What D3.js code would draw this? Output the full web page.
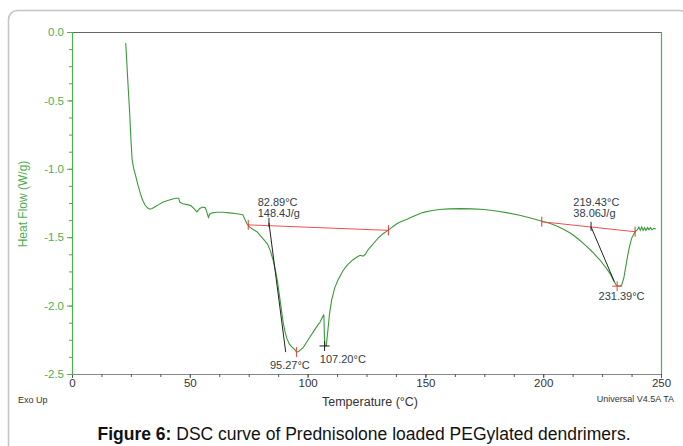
<!DOCTYPE html>
<html>
<head>
<meta charset="utf-8">
<script src="https://cdn.jsdelivr.net/npm/d3@7"></script>
<style>
  html, body { margin: 0; padding: 0; background: #fff; }
  svg { display: block; font-family: "Liberation Sans", Arial, sans-serif; }
</style>
</head>
<body>
<svg id="chart" width="683" height="446"></svg>
<script>
// ---- data ----
const temperature = [22.8,23.2,23.6,24.0,24.5,25.0,25.5,26.2,27.0,28.0,29.0,30.0,31.0,32.0,33.0,34.0,35.5,37.0,38.5,40.0,42.0,44.0,45.3,45.8,47.0,49.0,50.5,52.0,53.0,54.2,55.5,56.6,57.3,57.9,58.5,59.5,61.5,64.0,67.0,70.0,72.5,73.4,74.2,75.3,77.0,78.5,80.0,81.5,83.0,84.2,85.4,86.3,87.2,88.0,88.8,89.6,90.4,91.2,92.2,93.2,94.5,95.3,96.2,97.2,98.2,99.5,101.0,102.5,104.0,105.3,106.3,106.9,107.1,107.3,107.9,108.5,109.3,110.2,111.5,113.0,115.0,117.0,119.0,121.0,122.3,123.5,124.5,125.5,127.0,128.5,130.0,132.0,134.0,136.0,138.0,140.0,142.0,144.0,146.0,148.0,150.0,153.0,156.0,160.0,165.0,170.0,175.0,180.0,185.0,190.0,195.0,199.5,203.0,206.0,209.0,212.0,215.0,218.0,221.0,224.0,226.5,228.5,230.0,231.0,232.3,233.3,234.2,235.0,235.8,236.6,237.5,238.5,239.3,240.0,240.6,241.2,241.8,242.4,243.0,243.6,244.3,244.9,245.5,246.2,247.0,247.8];
const heatFlow = [-0.08,-0.20,-0.33,-0.45,-0.60,-0.78,-0.93,-1.00,-1.05,-1.12,-1.18,-1.23,-1.265,-1.285,-1.295,-1.29,-1.275,-1.26,-1.245,-1.235,-1.225,-1.215,-1.215,-1.245,-1.255,-1.262,-1.27,-1.295,-1.315,-1.29,-1.28,-1.285,-1.32,-1.355,-1.33,-1.322,-1.318,-1.318,-1.322,-1.328,-1.335,-1.37,-1.40,-1.425,-1.445,-1.46,-1.49,-1.52,-1.55,-1.60,-1.67,-1.74,-1.82,-1.92,-2.02,-2.12,-2.19,-2.24,-2.28,-2.30,-2.32,-2.34,-2.335,-2.32,-2.305,-2.27,-2.23,-2.19,-2.15,-2.12,-2.085,-2.065,-2.20,-2.29,-2.295,-2.20,-2.06,-1.96,-1.87,-1.81,-1.745,-1.70,-1.668,-1.645,-1.632,-1.638,-1.625,-1.595,-1.565,-1.535,-1.505,-1.475,-1.452,-1.425,-1.400,-1.383,-1.370,-1.355,-1.340,-1.325,-1.315,-1.305,-1.298,-1.293,-1.291,-1.293,-1.298,-1.308,-1.322,-1.340,-1.362,-1.383,-1.40,-1.42,-1.445,-1.475,-1.515,-1.56,-1.61,-1.665,-1.72,-1.77,-1.82,-1.85,-1.858,-1.85,-1.80,-1.72,-1.64,-1.57,-1.51,-1.475,-1.455,-1.445,-1.425,-1.45,-1.425,-1.45,-1.43,-1.45,-1.43,-1.445,-1.43,-1.445,-1.435,-1.44];

const xTicks = [0, 50, 100, 150, 200, 250];
const yTicks = [0.0, -0.5, -1.0, -1.5, -2.0, -2.5];
const yTickLabels = ["0.0", "-0.5", "-1.0", "-1.5", "-2.0", "-2.5"];

// integration baselines [T, HF] start/end
const baselineT = [[74.8, 134.3], [199.4, 239.0]];
const baselineHF = [[-1.41, -1.45], [-1.387, -1.46]];
// onset tangents
const tangentT = [[83.6, 90.7], [220.3, 230.2]];
const tangentHF = [[-1.395, -2.34], [-1.424, -1.825]];
const onsetLabels = [["82.89°C", "148.4J/g"], ["219.43°C", "38.06J/g"]];
const onsetLabelT = [78.8, 212.8];
const onsetLabelHF = [-1.27, -1.27];
// peaks
const peakT = [95.27, 107.20, 231.39];
const peakHF = [-2.34, -2.295, -1.858];
const peakLabels = ["95.27°C", "107.20°C", "231.39°C"];
const peakLabelT = [84.0, 105.2, 223.5];
const peakLabelHF = [-2.46, -2.42, -1.96];
const peakColors = ["#e8453c", "#222", "#e8453c"];

// ---- layout ----
const svg = d3.select("#chart");
const plotL = 72, plotR = 661, plotT = 32, plotB = 374;
const x = d3.scaleLinear().domain([0, 250]).range([plotL, plotR]);
const y = d3.scaleLinear().domain([-2.5, 0]).range([plotB, plotT]);
const green = "#4fae4f";
const curveGreen = "#3a9a3a";
const annColor = "#333c46";

// outer rounded frame
svg.append("rect").attr("x", 8.5).attr("y", 10.5).attr("width", 680).attr("height", 480)
  .attr("rx", 9).attr("fill", "none").attr("stroke", "#c4c4c4").attr("stroke-width", 1.5);

// top border
svg.append("line").attr("x1", plotL).attr("x2", plotR).attr("y1", plotT + 0.5).attr("y2", plotT + 0.5)
  .attr("stroke", "#666").attr("stroke-width", 1);
// right border
svg.append("line").attr("x1", plotR + 0.5).attr("x2", plotR + 0.5).attr("y1", plotT).attr("y2", plotB)
  .attr("stroke", green).attr("stroke-width", 1.2);

// x axis
const xAxisG = svg.append("g").attr("transform", `translate(0,${plotB})`);
xAxisG.call(d3.axisBottom(x).tickValues(d3.range(0, 251, 12.5)).tickSize(3).tickFormat(""));
xAxisG.select(".domain").attr("stroke", "#888");
xAxisG.selectAll(".tick line").attr("stroke", "#555");
const xAxisLab = svg.append("g").attr("transform", `translate(0,${plotB})`);
xAxisLab.call(d3.axisBottom(x).tickValues(xTicks).tickSize(4).tickPadding(1).tickFormat(d3.format("d")));
xAxisLab.select(".domain").remove();
xAxisLab.selectAll(".tick line").attr("stroke", "#555");
xAxisLab.selectAll(".tick text").attr("fill", "#333").attr("font-size", 11.5)
  .attr("font-family", "Liberation Sans, Arial, sans-serif");

// y axis
const yAxisG = svg.append("g").attr("transform", `translate(${plotL},0)`);
yAxisG.call(d3.axisLeft(y).tickValues(d3.range(-2.5, 0.001, 0.125)).tickSize(3).tickFormat(""));
yAxisG.select(".domain").attr("stroke", green).attr("stroke-width", 1.2);
yAxisG.selectAll(".tick line").attr("stroke", green);
const yAxisLab = svg.append("g").attr("transform", `translate(${plotL},0)`);
yAxisLab.call(d3.axisLeft(y).tickValues(yTicks).tickSize(5).tickPadding(3)
  .tickFormat((d, i) => yTickLabels[i]));
yAxisLab.select(".domain").remove();
yAxisLab.selectAll(".tick line").attr("stroke", green);
yAxisLab.selectAll(".tick text").attr("fill", green).attr("font-size", 11.5)
  .attr("font-family", "Liberation Sans, Arial, sans-serif");

// axis titles
svg.append("text").attr("transform", `translate(27,204) rotate(-90)`)
  .attr("text-anchor", "middle").attr("fill", green).attr("font-size", 12).text("Heat Flow (W/g)");
svg.append("text").attr("x", 370).attr("y", 406).attr("text-anchor", "middle")
  .attr("fill", "#333").attr("font-size", 12.5).text("Temperature (°C)");
svg.append("text").attr("x", 18).attr("y", 403).attr("fill", "#333").attr("font-size", 9).text("Exo Up");
svg.append("text").attr("x", 674).attr("y", 402).attr("text-anchor", "end")
  .attr("fill", "#333").attr("font-size", 9).text("Universal V4.5A TA");

// curve
const pts = temperature.map((t, i) => [t, heatFlow[i]]);
const line = d3.line().x(d => x(d[0])).y(d => y(d[1])).curve(d3.curveLinear);
svg.append("path").attr("d", line(pts)).attr("fill", "none")
  .attr("stroke", curveGreen).attr("stroke-width", 1.1);

// baselines
baselineT.forEach((bt, i) => {
  const bh = baselineHF[i];
  svg.append("line").attr("x1", x(bt[0])).attr("y1", y(bh[0])).attr("x2", x(bt[1])).attr("y2", y(bh[1]))
    .attr("stroke", "#f05050").attr("stroke-width", 1);
  [0, 1].forEach(k => {
    svg.append("line").attr("x1", x(bt[k])).attr("x2", x(bt[k]))
      .attr("y1", y(bh[k]) - 5).attr("y2", y(bh[k]) + 5).attr("stroke", "#e83030").attr("stroke-width", 1);
  });
});

// tangents
tangentT.forEach((tt, i) => {
  const th = tangentHF[i];
  svg.append("line").attr("x1", x(tt[0])).attr("y1", y(th[0])).attr("x2", x(tt[1])).attr("y2", y(th[1]))
    .attr("stroke", "#222").attr("stroke-width", 1);
  svg.append("line").attr("x1", x(tt[0])).attr("x2", x(tt[0]))
    .attr("y1", y(th[0]) - 5).attr("y2", y(th[0]) + 4).attr("stroke", "#222").attr("stroke-width", 1);
  const g = svg.append("text").attr("x", x(onsetLabelT[i])).attr("y", y(onsetLabelHF[i]))
    .attr("fill", annColor).attr("font-size", 11);
  g.append("tspan").attr("x", x(onsetLabelT[i])).attr("dy", 0).text(onsetLabels[i][0]);
  g.append("tspan").attr("x", x(onsetLabelT[i])).attr("dy", 11).text(onsetLabels[i][1]);
});

// peaks
peakT.forEach((pt, i) => {
  const px = x(pt), py = y(peakHF[i]);
  svg.append("line").attr("x1", px).attr("x2", px).attr("y1", py - 5).attr("y2", py + 5)
    .attr("stroke", peakColors[i]).attr("stroke-width", 1);
  if (i > 0) {
    svg.append("line").attr("x1", px - 5).attr("x2", px + 5).attr("y1", py).attr("y2", py)
      .attr("stroke", peakColors[i]).attr("stroke-width", 1);
  }
  svg.append("text").attr("x", x(peakLabelT[i])).attr("y", y(peakLabelHF[i]))
    .attr("fill", annColor).attr("font-size", 11).text(peakLabels[i]);
});

// caption
const cap = svg.append("text").attr("x", 364).attr("y", 440).attr("text-anchor", "middle")
  .attr("fill", "#111").attr("font-size", 17.5);
cap.append("tspan").attr("font-weight", "bold").text("Figure 6:");
cap.append("tspan").text(" DSC curve of Prednisolone loaded PEGylated dendrimers.");
</script>
</body>
</html>
